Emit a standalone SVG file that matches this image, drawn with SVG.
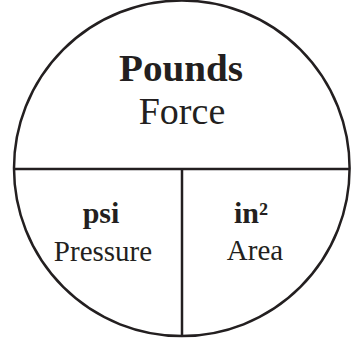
<svg xmlns="http://www.w3.org/2000/svg" width="357" height="339" viewBox="0 0 357 339">
<style>
.ln{fill:none;stroke:#231f20;stroke-width:2.5}
.t{font-family:"Liberation Serif","Times New Roman",serif;fill:#231f20;text-anchor:middle}
.b{font-weight:bold}
</style>
<rect width="357" height="339" fill="#fff"/>
<g id="connectors">
<circle class="ln" cx="181.8" cy="168.3" r="167.8"/>
<line class="ln" x1="14" y1="169" x2="350" y2="169"/>
<line class="ln" x1="182" y1="169" x2="182" y2="336"/>
</g>
<g id="force">
<text class="t b" x="181" y="81" font-size="37" textLength="124" lengthAdjust="spacingAndGlyphs">Pounds</text>
<text class="t" x="182" y="124" font-size="38">Force</text>
</g>
<g id="pressure">
<text class="t b" x="101" y="223" font-size="30">psi</text>
<text class="t" x="103" y="261" font-size="29">Pressure</text>
</g>
<g id="area">
<text class="t b" x="251" y="223" font-size="30">in²</text>
<text class="t" x="255" y="260" font-size="29">Area</text>
</g>
</svg>
